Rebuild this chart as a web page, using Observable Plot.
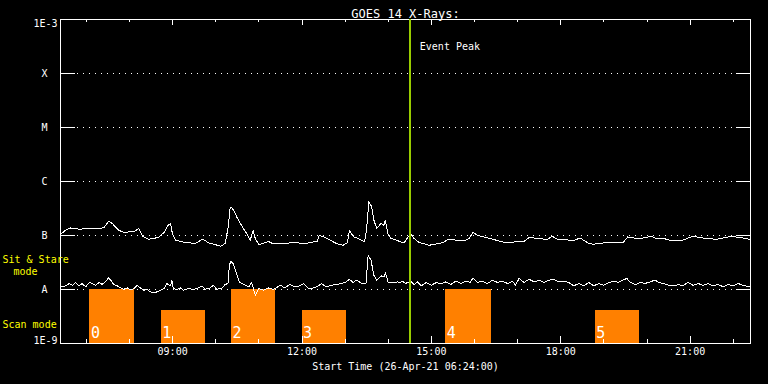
<!DOCTYPE html>
<html><head><meta charset="utf-8">
<script src="https://cdn.jsdelivr.net/npm/d3@7"></script>
<script src="https://cdn.jsdelivr.net/npm/@observablehq/plot@0.6"></script>
<style>html,body{margin:0;padding:0;background:#000;overflow:hidden;} #chart{width:768px;height:384px;}</style>
</head><body><div id="chart"></div>
<script>
// ---------- data ----------
const day = "2021-04-26";
const titleText = "GOES 14 X-Rays:";
const xTitle = "Start Time (26-Apr-21 06:24:00)";
const startTime = "06:24", endTime = "22:24";
const yMin = 1e-9, yMax = 1e-3;
const yEndLabels = ["1E-9", "1E-3"];
const levelNames = ["A", "B", "C", "M", "X"];
const levelValues = [1e-8, 1e-7, 1e-6, 1e-5, 1e-4];
const majorHours = ["09:00", "12:00", "15:00", "18:00", "21:00"];
const minorHours = ["07:00","08:00","10:00","11:00","13:00","14:00","16:00","17:00","19:00","20:00","22:00"];

const longTimes = ["06:24","06:31","06:38","06:50","07:08","07:24","07:31","07:36","07:45","07:52","08:01","08:07","08:13","08:18","08:26","08:34","08:41","08:49","08:53","08:57","09:00","09:04","09:13","09:22","09:31","09:42","09:50","09:59","10:07","10:13","10:17","10:20","10:22","10:25","10:30","10:37","10:43","10:48","10:52","10:55","11:00","11:06","11:13","11:20","11:34","11:48","12:04","12:21","12:24","12:30","12:39","12:48","12:57","13:03","13:06","13:12","13:18","13:27","13:30","13:33","13:37","13:40","13:44","13:50","13:54","13:56","14:00","14:04","14:11","14:20","14:23","14:31","14:36","14:43","14:57","15:07","15:16","15:24","15:34","15:48","15:53","15:58","16:04","16:16","16:30","16:43","16:57","17:09","17:16","17:30","17:41","17:48","17:55","18:07","18:16","18:27","18:39","18:46","19:00","19:14","19:27","19:33","19:41","19:50","20:00","20:06","20:13","20:23","20:32","20:50","21:04","21:13","21:23","21:36","21:50","21:57","22:04","22:13","22:23"];
const longFlux = [1.04e-7,1.25e-7,1.38e-7,1.31e-7,1.35e-7,1.38e-7,1.84e-7,1.67e-7,1.25e-7,1.14e-7,1.17e-7,1.20e-7,1.35e-7,9.8e-8,8.5e-8,8.8e-8,9.4e-8,1.17e-7,1.51e-7,1.67e-7,1.04e-7,8.2e-8,7.6e-8,7.4e-8,7.0e-8,8.6e-8,7.3e-8,6.8e-8,6.3e-8,7.1e-8,1.35e-7,3.2e-7,3.3e-7,2.9e-7,2.1e-7,1.44e-7,1.09e-7,8.2e-8,1.25e-7,8.8e-8,6.8e-8,7.1e-8,7.8e-8,7.0e-8,7.1e-8,7.4e-8,7.1e-8,7.8e-8,1.01e-7,9.4e-8,8.2e-8,7.1e-8,6.6e-8,7.3e-8,1.22e-7,9.4e-8,8.8e-8,7.6e-8,1.35e-7,4.2e-7,3.4e-7,1.92e-7,1.35e-7,1.67e-7,1.55e-7,1.92e-7,1.01e-7,8.8e-8,8.2e-8,7.4e-8,7.6e-8,1.09e-7,8.8e-8,7.4e-8,6.6e-8,7.0e-8,7.4e-8,8.6e-8,8.2e-8,8.2e-8,9.0e-8,1.14e-7,1.01e-7,9.2e-8,8.2e-8,7.4e-8,7.6e-8,7.8e-8,9.2e-8,8.8e-8,8.4e-8,9.7e-8,8.5e-8,8.4e-8,7.9e-8,9.0e-8,7.1e-8,6.9e-8,7.3e-8,7.3e-8,7.4e-8,9.4e-8,9.0e-8,8.8e-8,9.2e-8,9.8e-8,8.8e-8,8.8e-8,8.2e-8,8.2e-8,9.7e-8,9.2e-8,8.8e-8,8.5e-8,9.2e-8,9.7e-8,9.4e-8,9.0e-8,8.5e-8];

const shortTimes = ["06:24","06:31","06:36","06:41","06:45","06:50","06:54","06:59","07:04","07:08","07:13","07:18","07:22","07:27","07:31","07:35","07:38","07:43","07:48","07:52","07:57","08:01","08:06","08:11","08:15","08:20","08:24","08:29","08:36","08:43","08:48","08:52","08:57","08:59","09:01","09:06","09:11","09:15","09:22","09:29","09:36","09:41","09:45","09:52","09:57","10:01","10:08","10:13","10:17","10:19","10:21","10:24","10:29","10:33","10:39","10:46","10:50","10:55","11:00","11:06","11:13","11:20","11:30","11:36","11:43","11:50","11:57","12:02","12:09","12:16","12:23","12:27","12:34","12:41","12:48","12:55","13:00","13:06","13:11","13:16","13:23","13:29","13:32","13:36","13:40","13:44","13:50","13:54","13:56","14:00","14:06","14:13","14:17","14:20","14:24","14:31","14:36","14:41","14:46","14:53","15:00","15:07","15:13","15:20","15:27","15:34","15:41","15:48","15:54","15:58","16:04","16:11","16:18","16:25","16:32","16:39","16:46","16:53","16:57","17:02","17:09","17:16","17:23","17:30","17:37","17:44","17:50","17:57","18:04","18:11","18:18","18:25","18:32","18:39","18:46","18:53","19:00","19:07","19:14","19:20","19:26","19:32","19:37","19:44","19:51","19:57","20:04","20:11","20:17","20:23","20:30","20:37","20:44","20:50","20:57","21:04","21:11","21:18","21:25","21:32","21:39","21:46","21:53","22:00","22:07","22:13","22:23"];
const shortFlux = [1.12e-8,1.17e-8,1.29e-8,1.20e-8,1.35e-8,1.17e-8,1.29e-8,1.12e-8,1.35e-8,1.29e-8,1.20e-8,1.35e-8,1.24e-8,1.43e-8,1.64e-8,1.43e-8,1.24e-8,1.17e-8,1.07e-8,1.01e-8,1.07e-8,9.8e-9,1.04e-8,1.20e-8,1.07e-8,9.7e-9,1.01e-8,9.0e-9,8.8e-9,9.7e-9,1.04e-8,1.29e-8,1.17e-8,1.49e-8,1.04e-8,1.00e-8,1.07e-8,9.7e-9,1.04e-8,1.00e-8,1.07e-8,1.17e-8,1.01e-8,1.07e-8,1.20e-8,1.01e-8,1.04e-8,1.24e-8,1.29e-8,2.82e-8,3.34e-8,3.03e-8,1.98e-8,1.38e-8,1.24e-8,1.12e-8,1.35e-8,7.8e-9,1.04e-8,9.7e-9,1.07e-8,1.00e-8,1.20e-8,1.07e-8,1.24e-8,1.12e-8,1.17e-8,1.29e-8,1.04e-8,1.07e-8,1.17e-8,1.29e-8,1.12e-8,1.20e-8,1.24e-8,1.29e-8,1.35e-8,1.55e-8,1.35e-8,1.49e-8,1.29e-8,1.29e-8,4.32e-8,3.49e-8,1.84e-8,1.49e-8,1.79e-8,1.71e-8,2.06e-8,1.35e-8,1.35e-8,1.38e-8,1.35e-8,1.43e-8,1.29e-8,1.43e-8,1.24e-8,1.38e-8,1.17e-8,1.35e-8,1.20e-8,1.35e-8,1.27e-8,1.38e-8,1.24e-8,1.43e-8,1.29e-8,1.43e-8,1.35e-8,1.64e-8,1.35e-8,1.43e-8,1.29e-8,1.49e-8,1.35e-8,1.43e-8,1.29e-8,1.43e-8,1.20e-8,1.60e-8,1.35e-8,1.55e-8,1.38e-8,1.49e-8,1.35e-8,1.49e-8,1.55e-8,1.38e-8,1.43e-8,1.35e-8,1.17e-8,1.29e-8,1.17e-8,1.35e-8,1.17e-8,1.29e-8,1.20e-8,1.35e-8,1.43e-8,1.35e-8,1.49e-8,1.60e-8,1.35e-8,1.24e-8,1.35e-8,1.29e-8,1.38e-8,1.49e-8,1.35e-8,1.29e-8,1.20e-8,1.17e-8,1.24e-8,1.17e-8,1.35e-8,1.20e-8,1.29e-8,1.20e-8,1.29e-8,1.17e-8,1.24e-8,1.12e-8,1.24e-8,1.17e-8,1.29e-8,1.20e-8,1.12e-8];

const modeIds = [0, 1, 2, 3, 4, 5];
const modeStart = ["07:05", "08:44", "10:22", "12:00", "15:20", "18:48"];
const modeEnd   = ["08:07", "09:46", "11:23", "13:02", "16:24", "19:50"];
const modeTop   = [1e-8, 4e-9, 1e-8, 4e-9, 1e-8, 4e-9];
const peakTime = "14:30";
const peakLabel = "Event Peak";
const sitLabel = ["Sit & Stare", "mode"];
const scanLabel = "Scan mode";

// ---------- helpers ----------
const t = s => new Date(`${day}T${s}:00Z`);
const FONT = "DejaVu Sans Mono";
const frameW = 768 - 60 - 18, frameH = 384 - 19 - 41;

const longData = longTimes.map((s, i) => ({time: t(s), flux: longFlux[i]}));
const shortData = shortTimes.map((s, i) => ({time: t(s), flux: shortFlux[i]}));
const modes = modeIds.map((id, i) => ({id, start: t(modeStart[i]), end: t(modeEnd[i]), top: modeTop[i], base: yMin}));

const txt = {fill: "#fff", fontSize: 10, fontFamily: FONT};

const plot = Plot.plot({
  width: 768, height: 384,
  marginLeft: 60, marginRight: 18, marginTop: 19, marginBottom: 41,
  style: {background: "#000", color: "#fff", fontFamily: FONT, fontSize: "10px", overflow: "visible"},
  x: {type: "utc", domain: [t(startTime), t(endTime)], axis: null},
  y: {type: "log", domain: [yMin, yMax], axis: null},
  marks: [
    // dotted level lines
    Plot.ruleY(levelValues, {stroke: "#fff", strokeWidth: 1, strokeDasharray: "1,5", insetLeft: 17, insetRight: 16, shapeRendering: "crispEdges"}),
    // scan / sit&stare blocks
    Plot.rect(modes, {x1: "start", x2: "end", y1: "base", y2: "top", fill: "#ff8000", shapeRendering: "crispEdges"}),
    Plot.text(modes, {x: "start", y: "base", text: d => String(d.id), textAnchor: "start", dx: 1, dy: -10, fill: "#fff", fontSize: 15, fontFamily: FONT}),
    // curves
    Plot.line(longData, {x: "time", y: "flux", stroke: "#fff", strokeWidth: 1, shapeRendering: "crispEdges"}),
    Plot.line(shortData, {x: "time", y: "flux", stroke: "#fff", strokeWidth: 1, shapeRendering: "crispEdges"}),
    // level ticks left and right
    Plot.tickY(levelValues, {stroke: "#fff", insetRight: frameW - 15, shapeRendering: "crispEdges"}),
    Plot.tickY(levelValues, {stroke: "#fff", insetLeft: frameW - 14, shapeRendering: "crispEdges"}),
    // time ticks
    Plot.tickX(minorHours.map(t), {stroke: "#fff", insetTop: frameH - 4, shapeRendering: "crispEdges"}),
    Plot.tickX(minorHours.map(t), {stroke: "#fff", insetBottom: frameH - 3, shapeRendering: "crispEdges"}),
    Plot.tickX(majorHours.map(t), {stroke: "#fff", insetTop: frameH - 7, shapeRendering: "crispEdges"}),
    Plot.tickX(majorHours.map(t), {stroke: "#fff", insetBottom: frameH - 6, shapeRendering: "crispEdges"}),
    Plot.frame({stroke: "#fff", shapeRendering: "crispEdges"}),
    // event peak
    Plot.ruleX([t(peakTime)], {stroke: "#99cc00", strokeWidth: 2, shapeRendering: "crispEdges"}),
    Plot.text([peakLabel], {x: [t(peakTime)], frameAnchor: "top", dx: 10, dy: 23, textAnchor: "start", ...txt}),
    // y labels
    Plot.text(levelNames, {y: levelValues, frameAnchor: "left", dx: -13, textAnchor: "end", ...txt}),
    Plot.text([yEndLabels[1]], {y: [yMax], frameAnchor: "left", dx: -3, dy: 4, textAnchor: "end", ...txt}),
    Plot.text([yEndLabels[0]], {y: [yMin], frameAnchor: "left", dx: -3, dy: -3, textAnchor: "end", ...txt}),
    // x labels
    Plot.text(majorHours, {x: majorHours.map(t), frameAnchor: "bottom", dy: 11, ...txt}),
    Plot.text([xTitle], {frameAnchor: "bottom", dy: 26, ...txt}),
    // title
    Plot.text([titleText], {frameAnchor: "top", dy: -10, ...txt, fontSize: 12}),
    // mode labels
    Plot.text([sitLabel[0]], {y: [levelValues[0]], frameAnchor: "left", dx: -58, dy: -30, textAnchor: "start", ...txt, fill: "#ffff00"}),
    Plot.text([sitLabel[1]], {y: [levelValues[0]], frameAnchor: "left", dx: -47, dy: -18, textAnchor: "start", ...txt, fill: "#ffff00"}),
    Plot.text([scanLabel], {y: [yMin], frameAnchor: "left", dx: -58, dy: -19, textAnchor: "start", ...txt, fill: "#ffff00"})
  ]
});
document.getElementById("chart").appendChild(plot);
</script>
</body></html>
